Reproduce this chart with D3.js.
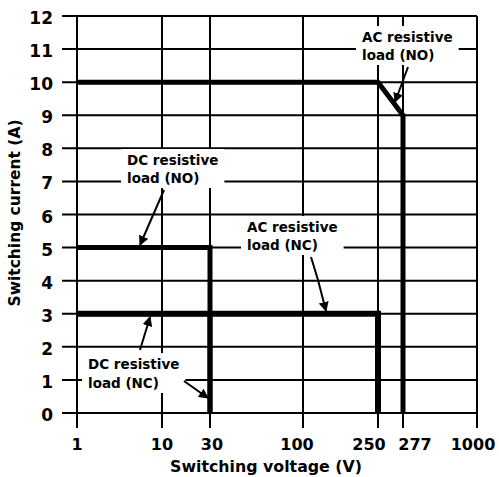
<!DOCTYPE html>
<html><head><meta charset="utf-8">
<script src="https://cdn.jsdelivr.net/npm/d3@7"></script>
<style>body{margin:0;background:#fff}svg{display:block}text{font-family:"DejaVu Sans",sans-serif;font-weight:bold;fill:#000}</style>
</head><body>
<svg id="c" width="499" height="477"></svg>
<script>
// ---- data ----
const xTicks = [1, 10, 30, 100, 250, 277, 1000];
const yTicks = [0,1,2,3,4,5,6,7,8,9,10,11,12];
const acResistiveNO = [[1,10],[250,10],[277,9],[277,0]];
const dcResistiveNO = [[1,5],[30,5],[30,0]];
const acResistiveNC = [[1,3],[250,3],[250,0]];
const dcResistiveNC = [[1,3],[30,3],[30,0]];
const xTitle = "Switching voltage (V)";
const yTitle = "Switching current (A)";
const labelNames = [["DC resistive","load (NO)"],["AC resistive","load (NC)"],["AC resistive","load (NO)"],["DC resistive","load (NC)"]];

// ---- layout ----
const L = 77, R = 477, T = 16, B = 413;
const xFrac = [0, 0.2125, 0.3325, 0.565, 0.7525, 0.815, 1]; // schematic axis spacing
const xLabelShift = [0, 0, 2, -6, -9, 12, -4];
const x = d3.scaleLog().domain(xTicks).range(xFrac.map(f => L + f*(R-L)));
const y = d3.scaleLinear().domain([0,12]).range([B,T]);
const svg = d3.select("#c");

svg.append("defs").append("marker").attr("id","ah").attr("viewBox","0 0 10 10")
  .attr("refX",9).attr("refY",5).attr("markerWidth",5).attr("markerHeight",5)
  .attr("orient","auto").append("path").attr("d","M0,0L10,5L0,10z").attr("fill","#000");

// grid
const g = svg.append("g");
g.selectAll(".h").data(yTicks).join("line")
  .attr("x1", L-15).attr("x2", R).attr("y1", d=>y(d)).attr("y2", d=>y(d))
  .attr("stroke","#000").attr("stroke-width",2);
g.selectAll(".v").data(xTicks).join("line")
  .attr("x1", d=>x(d)).attr("x2", d=>x(d)).attr("y1", T).attr("y2", B+15)
  .attr("stroke","#000").attr("stroke-width",2);

// tick labels
svg.append("g").selectAll("text").data(yTicks).join("text")
  .attr("x", 53).attr("y", d=>y(d)+8).attr("text-anchor","end")
  .attr("font-size",17).text(d=>d);
svg.append("g").selectAll("text").data(xTicks).join("text")
  .attr("x", (d,i)=>x(d)+xLabelShift[i]).attr("y", 450).attr("text-anchor","middle")
  .attr("font-size",16).text(d=>d);
svg.append("text").attr("x", 266).attr("y", 472).attr("text-anchor","middle")
  .attr("font-size",15).attr("textLength",192).attr("lengthAdjust","spacingAndGlyphs").text(xTitle);
svg.append("text").attr("transform","translate(20,213) rotate(-90)").attr("text-anchor","middle")
  .attr("font-size",15).attr("textLength",187).attr("lengthAdjust","spacingAndGlyphs").text(yTitle);

// curves
const line = d3.line().x(d=>x(d[0])).y(d=>y(d[1]));
[[acResistiveNO,5],[dcResistiveNO,5],[acResistiveNC,6],[dcResistiveNC,5]].forEach(([d,w])=>{
  svg.append("path").datum(d).attr("d",line).attr("fill","none")
    .attr("stroke","#000").attr("stroke-width",w).attr("stroke-linejoin","miter");
});

// labels with white background
const labels = [
  {t:labelNames[0], x:127, y:165, dy:18},
  {t:labelNames[1], x:247, y:232, dy:18},
  {t:labelNames[2], x:362, y:42, dy:18},
  {t:labelNames[3], x:88,  y:369, dy:19}
];
labels.forEach(l=>{
  const gg = svg.append("g");
  const rect = gg.append("rect").attr("fill","#fff");
  const txt = gg.append("text").attr("font-size",13.5);
  l.t.forEach((s,i)=>txt.append("tspan").attr("x",l.x).attr("y",l.y+i*l.dy).text(s));
  const bb = txt.node().getBBox();
  rect.attr("x",bb.x-6).attr("y",bb.y-3).attr("width",bb.width+12).attr("height",bb.height+5);
});

// arrows
const arrows = [
  [[164,190],[140,245]],
  [[311,257],[318,280],[326,311]],
  [[408,67],[395,102]],
  [[140,350],[150,317]],
  [[184,381],[208,398]]
];
arrows.forEach(a=>{
  svg.append("path").attr("d", d3.line()(a)).attr("fill","none").attr("stroke","#000")
    .attr("stroke-width",2).attr("marker-end","url(#ah)");
});
</script>
</body></html>
